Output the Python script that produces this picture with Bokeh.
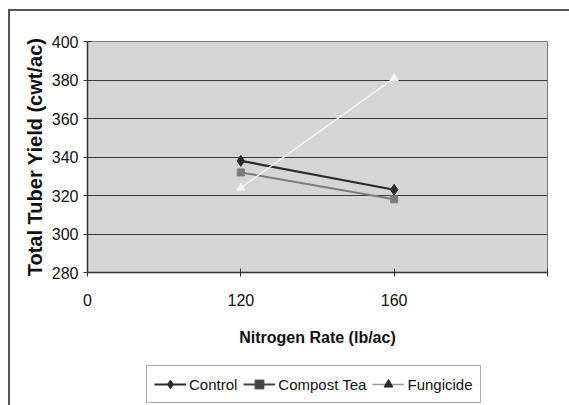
from bokeh.plotting import figure
from bokeh.layouts import column
from bokeh.models import FixedTicker, Legend, LegendItem, Range1d
from bokeh.embed import file_html
from bokeh.resources import INLINE

# Data
categories = ["0", "120", "160"]
nitrogen = ["120", "160"]
control = [338, 323]
compost_tea = [332, 318]
fungicide = [324, 381]
y_ticks = [280, 300, 320, 340, 360, 380, 400]

x_pos = [categories.index(n) for n in nitrogen]

FONT = "Liberation Sans, Arial, sans-serif"

frame_css = {
    "background-color": "white",
    "background-image": "linear-gradient(#555555, #555555), linear-gradient(#555555, #555555)",
    "background-size": "2px 100%, 100% 2px",
    "background-position": "8px 9px, 8px 9px",
    "background-repeat": "no-repeat",
}

p = figure(width=569, height=350, output_backend="svg", toolbar_location=None,
           x_range=Range1d(0, len(categories)), y_range=Range1d(280, 400),
           min_border_left=87, min_border_right=22, min_border_top=41, min_border_bottom=78)
p.background_fill_color = "#d5d5d5"
p.border_fill_alpha = 0
p.outline_line_color = "#7a7a7a"
p.outline_line_width = 1

# axes
p.xaxis.ticker = FixedTicker(ticks=list(range(len(categories) + 1)))
overrides = {i: c for i, c in enumerate(categories)}
overrides[len(categories)] = ""
p.xaxis.major_label_overrides = overrides
p.yaxis.ticker = FixedTicker(ticks=y_ticks)
for ax in (p.xaxis[0], p.yaxis[0]):
    ax.axis_line_color = "#333333"
    ax.axis_line_width = 1.5
    ax.major_tick_line_color = "#333333"
    ax.major_tick_in = 4
    ax.major_tick_out = 4
    ax.minor_tick_line_color = None
    ax.major_label_text_font = FONT
    ax.major_label_text_font_size = "16px"
    ax.major_label_text_color = "#111111"
    ax.axis_label_text_font = FONT
    ax.axis_label_text_font_style = "bold"
    ax.axis_label_text_color = "#111111"
p.xaxis.axis_label = "Nitrogen Rate (lb/ac)"
p.xaxis.axis_label_text_font_size = "16px"
p.xaxis.major_label_standoff = 17
p.xaxis.axis_label_standoff = 20
p.yaxis.axis_label = "Total Tuber Yield (cwt/ac)"
p.yaxis.axis_label_text_font_size = "20px"
p.yaxis.major_label_standoff = 5
p.yaxis.axis_label_standoff = 3

p.xgrid.grid_line_color = None
p.ygrid.grid_line_color = "#3a3a3a"
p.ygrid.grid_line_width = 1

# series
p.line(x_pos, control, line_color="#2a2a2a", line_width=2.2)
p.scatter(x_pos, control, marker="diamond", size=11, fill_color="#2a2a2a", line_color="#2a2a2a")
p.line(x_pos, compost_tea, line_color="#7c7c7c", line_width=2)
p.scatter(x_pos, compost_tea, marker="square", size=7, fill_color="#7c7c7c", line_color="#7c7c7c")
p.line(x_pos, fungicide, line_color="#f4f4f4", line_width=1.5)
p.scatter(x_pos, fungicide, marker="triangle", size=8, fill_color="#f4f4f4", line_color="#f4f4f4")

# legend strip below the chart
lf = figure(width=569, height=55, output_backend="svg", toolbar_location=None,
            x_range=Range1d(0, 1), y_range=Range1d(0, 1),
            x_axis_type=None, y_axis_type=None, min_border=0)
lf.grid.visible = False
lf.outline_line_color = None
lf.background_fill_alpha = 0
lf.border_fill_alpha = 0

l1 = lf.line(x_pos, control, line_color="#2a2a2a", line_width=2, visible=False)
k1 = lf.scatter(x_pos, control, marker="diamond", size=10, fill_color="#2a2a2a", line_color="#2a2a2a", visible=False)
l2 = lf.line(x_pos, compost_tea, line_color="#444444", line_width=2, visible=False)
k2 = lf.scatter(x_pos, compost_tea, marker="square", size=6, fill_color="#444444", line_color="#444444", visible=False)
l3 = lf.line(x_pos, fungicide, line_color="#9a9a9a", line_width=1.5, visible=False)
k3 = lf.scatter(x_pos, fungicide, marker="triangle", size=7, fill_color="#2a2a2a", line_color="#2a2a2a", visible=False)

legend = Legend(items=[
    LegendItem(label="Control", renderers=[l1, k1]),
    LegendItem(label="Compost Tea", renderers=[l2, k2]),
    LegendItem(label="Fungicide", renderers=[l3, k3]),
], orientation="horizontal", location=(59, 2))
legend.label_text_font = FONT
legend.label_text_font_size = "15px"
legend.label_text_color = "#111111"
legend.glyph_width = 32
legend.glyph_height = 22
legend.label_standoff = 3
legend.spacing = 6
legend.padding = 7
legend.margin = 0
legend.border_line_color = "#555555"
legend.border_line_width = 1.5
legend.background_fill_color = "white"
legend.background_fill_alpha = 1
lf.add_layout(legend, "center")

layout = column(p, lf, spacing=0, styles=frame_css)

open("out.html", "w").write(file_html(layout, INLINE))
